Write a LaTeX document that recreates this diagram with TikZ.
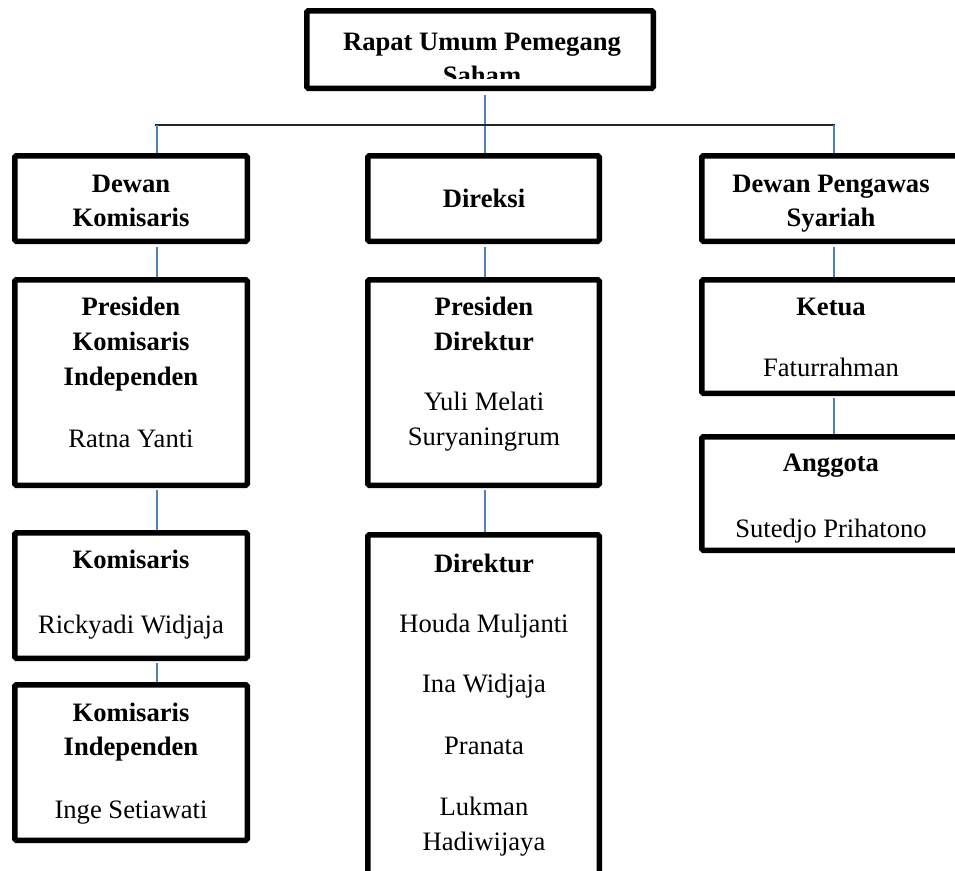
\documentclass[tikz,border=0pt]{standalone}
\usepackage{fontspec}
\setmainfont{Liberation Serif}
\definecolor{connblue}{RGB}{79,129,189}
\begin{document}
\begin{tikzpicture}[x=1pt,y=-1pt,
  box/.style={draw=black, line width=5.5pt, inner sep=0pt, rounded corners=1.5pt},
  conn/.style={draw=connblue, line width=1.6pt},
  hline/.style={draw=black!85, line width=1.5pt},
  hd/.style={font=\fontsize{26.6}{35}\selectfont\bfseries, anchor=base, inner sep=0pt},
  nm/.style={font=\fontsize{26.6}{35}\selectfont, anchor=base, inner sep=0pt}]
\useasboundingbox (0,0) rectangle (955,870);
\clip (0,0) rectangle (955,870);

% column x positions for connectors
\coordinate (xl) at (157,0);
\coordinate (xm) at (485,0);
\coordinate (xr) at (834,0);
\coordinate (hl) at (155,125);
\coordinate (hr) at (835,125);

% boxes
\node[box, minimum width=346.5pt, minimum height=77.5pt] (rups) at (480,49.5) {};
\node[box, minimum width=232.5pt, minimum height=85.5pt] (dk) at (131,198.5) {};
\node[box, minimum width=231.5pt, minimum height=85.5pt] (dir) at (483.5,198.5) {};
\node[box, minimum width=258.5pt, minimum height=85.5pt] (dps) at (831,198.5) {};
\node[box, minimum width=232.5pt, minimum height=205.5pt] (pk) at (131,382.5) {};
\node[box, minimum width=231.5pt, minimum height=205.5pt] (pd) at (483.5,382.5) {};
\node[box, minimum width=258.5pt, minimum height=113.5pt] (ketua) at (831,336.5) {};
\node[box, minimum width=258.5pt, minimum height=113.5pt] (ang) at (831,493.5) {};
\node[box, minimum width=232.5pt, minimum height=125.5pt] (kom) at (131,595.5) {};
\node[box, minimum width=232.5pt, minimum height=155.5pt] (ki) at (131,762.5) {};
\node[box, minimum width=231.5pt, minimum height=362.5pt] (dkt) at (483.5,716) {};

% connectors
\draw[conn] ([yshift=-4pt]rups.south -| xm) -- (dir.north -| xm);
\draw[hline] (hl) -- (hr);
\draw[conn] (hl -| xl) -- (dk.north -| xl);
\draw[conn] (hr -| xr) -- (dps.north -| xr);
\draw[conn] ([yshift=-3pt]dk.south -| xl) -- (pk.north -| xl);
\draw[conn] ([yshift=-3pt]dir.south -| xm) -- (pd.north -| xm);
\draw[conn] ([yshift=-3pt]dps.south -| xr) -- (ketua.north -| xr);
\draw[conn] ([yshift=-2pt]pk.south -| xl) -- (kom.north -| xl);
\draw[conn] ([yshift=-2pt]pd.south -| xm) -- (dkt.north -| xm);
\draw[conn] ([yshift=-2pt]kom.south -| xl) -- (ki.north -| xl);
\draw[conn] ([yshift=-2pt]ketua.south -| xr) -- (ang.north -| xr);

% top text (clipped like the reference)
\node[hd] (t1) at (482,50) {Rapat Umum Pemegang};
\begin{scope}
  \clip (306,60) rectangle (654,78);
  \node[hd] (t2) at (482,84) {Saham};
\end{scope}

% Dewan Komisaris
\node[hd] (dk1) at (131,192) {Dewan};
\node[hd] (dk2) at (131,226) {Komisaris};
% Direksi
\node[hd] (dr1) at (484,207) {Direksi};
% Dewan Pengawas Syariah
\node[hd] (ds1) at (831,192) {Dewan Pengawas};
\node[hd] (ds2) at (831,226) {Syariah};

% Presiden Komisaris Independen
\node[hd] (pk1) at (131,315) {Presiden};
\node[hd] (pk2) at (131,350) {Komisaris};
\node[hd] (pk3) at (131,385) {Independen};
\node[nm] (pk4) at (131,447) {Ratna Yanti};

% Presiden Direktur
\node[hd] (pd1) at (484,315) {Presiden};
\node[hd] (pd2) at (484,350) {Direktur};
\node[nm] (pd3) at (484,410) {Yuli Melati};
\node[nm] (pd4) at (484,445) {Suryaningrum};

% Ketua / Anggota
\node[hd] (k1) at (831,315) {Ketua};
\node[nm] (k2) at (831,376) {Faturrahman};
\node[hd] (a1) at (831,471) {Anggota};
\node[nm] (a2) at (831,537) {Sutedjo Prihatono};

% Komisaris
\node[hd] (km1) at (131,568) {Komisaris};
\node[nm] (km2) at (131,633) {Rickyadi Widjaja};

% Komisaris Independen
\node[hd] (ki1) at (131,721) {Komisaris};
\node[hd] (ki2) at (131,755) {Independen};
\node[nm] (ki3) at (131,818) {Inge Setiawati};

% Direktur
\node[hd] (dt1) at (484,572) {Direktur};
\node[nm] (dt2) at (484,632) {Houda Muljanti};
\node[nm] (dt3) at (484,692) {Ina Widjaja};
\node[nm] (dt4) at (484,754) {Pranata};
\node[nm] (dt5) at (484,815) {Lukman};
\node[nm] (dt6) at (484,850) {Hadiwijaya};
\end{tikzpicture}
\end{document}
